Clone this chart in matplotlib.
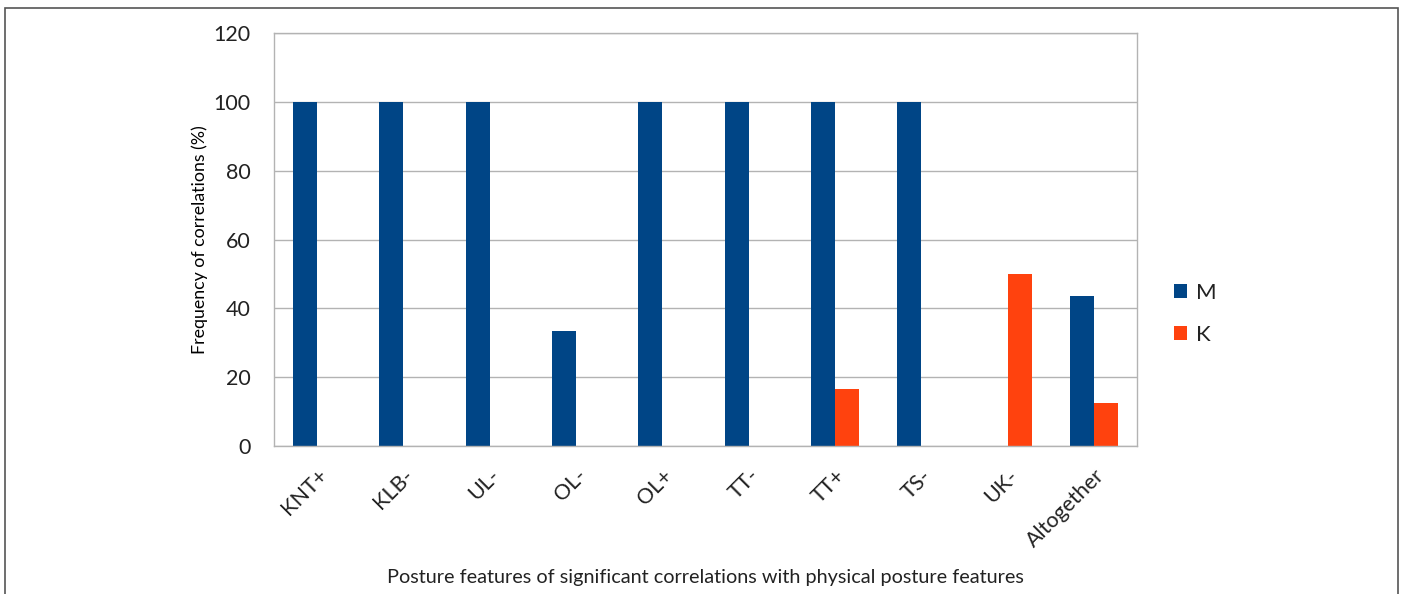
import numpy as np
from matplotlib import pyplot as plt
from matplotlib.patches import Rectangle

categories = ["KNT+", "KLB-", "UL-", "OL-", "OL+", "TT-", "TT+", "TS-", "UK-", "Altogether"]
m_values = [100, 100, 100, 33.3, 100, 100, 100, 100, 0, 43.6]
k_values = [0, 0, 0, 0, 0, 0, 16.7, 0, 50, 12.5]
y_ticks = [0, 20, 40, 60, 80, 100, 120]

# Lato is the base of Carlito, close to the Calibri look of the original
plt.rcParams['font.family'] = ['Lato', 'DejaVu Sans']
plt.rcParams['text.color'] = "#222222"

fig = plt.figure(figsize=(14.02, 5.94), dpi=100)
ax = fig.add_axes([274 / 1402, 1 - 446 / 594, (1137 - 274) / 1402, (446 - 33) / 594])

# outer frame of the picture, bottom edge falls off the image
fig.patches.append(Rectangle((5 / 1402, -0.1), (1398 - 5) / 1402, 1.1 - 8 / 594,
                             transform=fig.transFigure, fill=False,
                             edgecolor="#555555", linewidth=1.2))

x = np.arange(len(categories))
w = 0.278
ax.bar(x - w / 2, m_values, w, color="#004586", label="M")
ax.bar(x + w / 2, k_values, w, color="#ff420e", label="K")

ax.set_xlim(-0.5, len(categories) - 0.5)
ax.set_ylim(0, 120)
ax.set_yticks(y_ticks)
ax.set_yticklabels([str(v) for v in y_ticks], fontsize=15.5, color="#222222")
ax.set_xticks(x)
ax.set_xticklabels(categories, rotation=45, ha="right", rotation_mode="anchor",
                   fontsize=15.5, color="#222222")
ax.tick_params(axis="both", length=0)
ax.tick_params(axis="y", pad=17)
ax.tick_params(axis="x", pad=14)

ax.yaxis.grid(True, color="#b3b3b3", linewidth=1)
ax.set_axisbelow(True)
for s in ax.spines.values():
    s.set_color("#b3b3b3")
    s.set_linewidth(1)

ax.set_ylabel("Frequency of correlations (%)", fontsize=12.8, labelpad=4)
fig.text(705 / 1402, 1 - 577 / 594, "Posture features of significant correlations with physical posture features",
         ha="center", va="center", fontsize=14.3)

fig.legend(loc="upper left", bbox_to_anchor=(1154 / 1402, 1 - 263 / 594), frameon=False,
           fontsize=16, handlelength=0.6, handleheight=0.6, labelspacing=1.0, handletextpad=0.4)

fig.savefig("out.png", dpi=100)
